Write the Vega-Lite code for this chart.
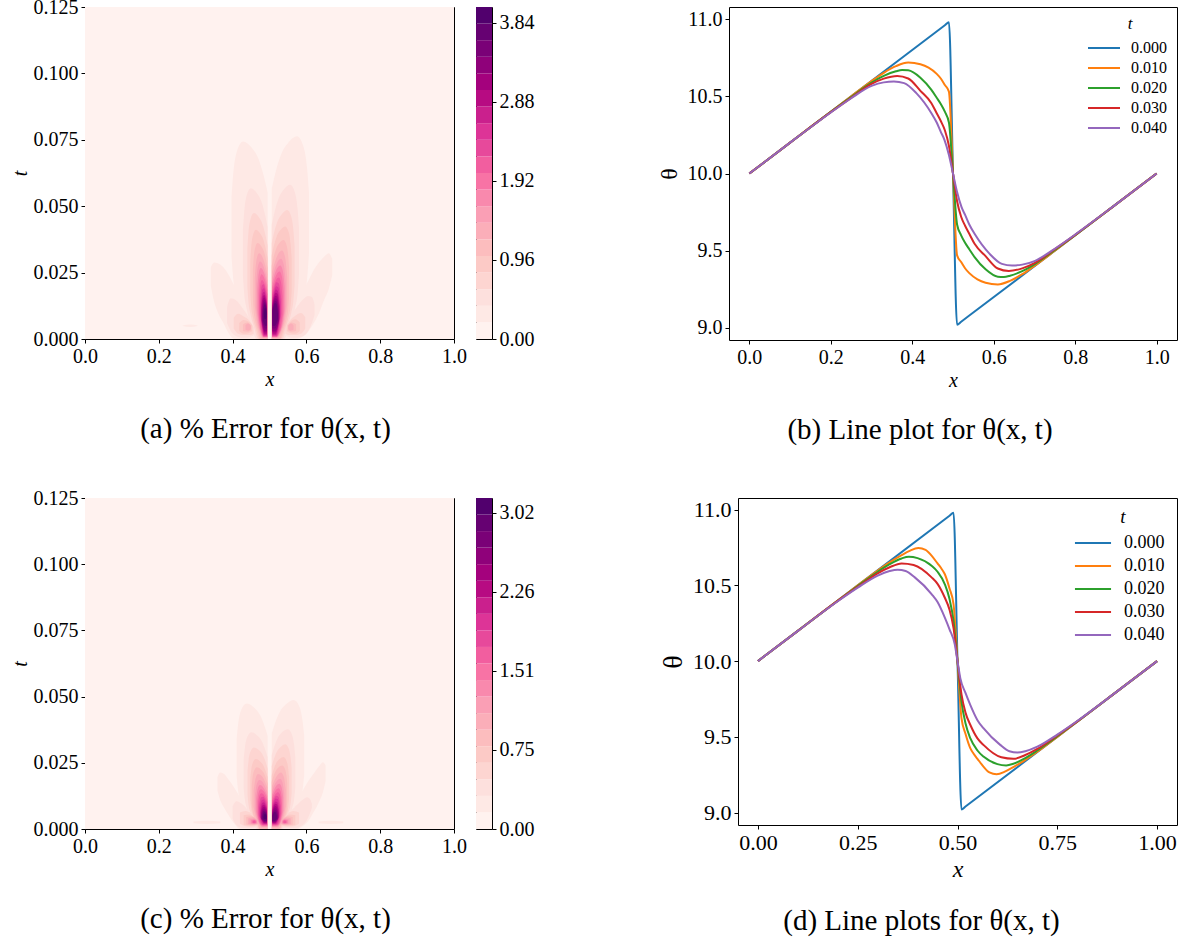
{
"$schema":"https://vega.github.io/schema/vega-lite/v6.json",
"background":"white",
"padding":{"left":9,"top":-4,"right":0,"bottom":0},
"datasets":{
"heatA":[
{"g":"B0","k":0,"x":0,"l":0,"h":0.125},{"g":"B0","k":0,"x":1,"l":0,"h":0.125},
{"g":"L1","k":1,"x":0.397,"l":0.0312,"h":0.0536},{"g":"L1","k":1,"x":0.4019,"l":0.0223,"h":0.0625},{"g":"L1","k":1,"x":0.4117,"l":0.0149,"h":0.0707},{"g":"L1","k":1,"x":0.4284,"l":0.0074,"h":0.0744},{"g":"L1","k":1,"x":0.4509,"l":0,"h":0.0722},{"g":"L1","k":1,"x":0.4705,"l":0,"h":0.0677},{"g":"L1","k":1,"x":0.4852,"l":0,"h":0.061},{"g":"L1","k":1,"x":0.495,"l":0,"h":0.0551},
{"g":"R1","k":1,"x":0.607,"l":0.032,"h":0.0549},{"g":"R1","k":1,"x":0.602,"l":0.0229,"h":0.0641},{"g":"R1","k":1,"x":0.5919,"l":0.0153,"h":0.0725},{"g":"R1","k":1,"x":0.5747,"l":0.0076,"h":0.0763},{"g":"R1","k":1,"x":0.5514,"l":0,"h":0.074},{"g":"R1","k":1,"x":0.5312,"l":0,"h":0.0694},{"g":"R1","k":1,"x":0.5161,"l":0,"h":0.0626},{"g":"R1","k":1,"x":0.506,"l":0,"h":0.0565},
{"g":"S1","k":1,"x":0.341,"l":0.02,"h":0.027},{"g":"S1","k":1,"x":0.35,"l":0.014,"h":0.0288},{"g":"S1","k":1,"x":0.36,"l":0.01,"h":0.0285},{"g":"S1","k":1,"x":0.375,"l":0.006,"h":0.027},{"g":"S1","k":1,"x":0.39,"l":0.002,"h":0.024},{"g":"S1","k":1,"x":0.405,"l":0,"h":0.02},{"g":"S1","k":1,"x":0.42,"l":0,"h":0.016},{"g":"S1","k":1,"x":0.435,"l":0,"h":0.012},{"g":"S1","k":1,"x":0.45,"l":0,"h":0.008},{"g":"S1","k":1,"x":0.46,"l":0,"h":0.004},{"g":"S1","k":1,"x":0.466,"l":0,"h":0.0015},
{"g":"T1","k":1,"x":0.534,"l":0,"h":0.0015},{"g":"T1","k":1,"x":0.54,"l":0,"h":0.004},{"g":"T1","k":1,"x":0.55,"l":0,"h":0.008},{"g":"T1","k":1,"x":0.565,"l":0,"h":0.0125},{"g":"T1","k":1,"x":0.585,"l":0.0005,"h":0.017},{"g":"T1","k":1,"x":0.6,"l":0.002,"h":0.0205},{"g":"T1","k":1,"x":0.62,"l":0.006,"h":0.026},{"g":"T1","k":1,"x":0.635,"l":0.01,"h":0.029},{"g":"T1","k":1,"x":0.648,"l":0.0147,"h":0.031},{"g":"T1","k":1,"x":0.661,"l":0.019,"h":0.0323},{"g":"T1","k":1,"x":0.67,"l":0.024,"h":0.03},
{"g":"V1","k":1,"x":0.265,"l":0.0049,"h":0.0051},{"g":"V1","k":1,"x":0.285,"l":0.0045,"h":0.0055},{"g":"V1","k":1,"x":0.305,"l":0.0049,"h":0.0051},
{"g":"L2","k":2,"x":0.428,"l":0.0239,"h":0.0409},{"g":"L2","k":2,"x":0.4314,"l":0.017,"h":0.0477},{"g":"L2","k":2,"x":0.438,"l":0.0114,"h":0.054},{"g":"L2","k":2,"x":0.4494,"l":0.0057,"h":0.0568},{"g":"L2","k":2,"x":0.4649,"l":0,"h":0.0551},{"g":"L2","k":2,"x":0.4783,"l":0,"h":0.0517},{"g":"L2","k":2,"x":0.4883,"l":0,"h":0.0466},{"g":"L2","k":2,"x":0.495,"l":0,"h":0.042},
{"g":"R2","k":2,"x":0.58,"l":0.0244,"h":0.0418},{"g":"R2","k":2,"x":0.5763,"l":0.0174,"h":0.0488},{"g":"R2","k":2,"x":0.5689,"l":0.0116,"h":0.0552},{"g":"R2","k":2,"x":0.5563,"l":0.0058,"h":0.0581},{"g":"R2","k":2,"x":0.5393,"l":0,"h":0.0564},{"g":"R2","k":2,"x":0.5245,"l":0,"h":0.0529},{"g":"R2","k":2,"x":0.5134,"l":0,"h":0.0476},{"g":"R2","k":2,"x":0.506,"l":0,"h":0.043},
{"g":"S2","k":2,"x":0.385,"l":0.006,"h":0.012},{"g":"S2","k":2,"x":0.395,"l":0.003,"h":0.0153},{"g":"S2","k":2,"x":0.41,"l":0.001,"h":0.0145},{"g":"S2","k":2,"x":0.425,"l":0.0005,"h":0.012},{"g":"S2","k":2,"x":0.44,"l":0.0005,"h":0.009},{"g":"S2","k":2,"x":0.452,"l":0.001,"h":0.006},{"g":"S2","k":2,"x":0.462,"l":0.002,"h":0.003},
{"g":"T2","k":2,"x":0.538,"l":0.002,"h":0.003},{"g":"T2","k":2,"x":0.548,"l":0.001,"h":0.006},{"g":"T2","k":2,"x":0.56,"l":0.0005,"h":0.009},{"g":"T2","k":2,"x":0.575,"l":0.0005,"h":0.0122},{"g":"T2","k":2,"x":0.59,"l":0.001,"h":0.0148},{"g":"T2","k":2,"x":0.605,"l":0.003,"h":0.0162},{"g":"T2","k":2,"x":0.615,"l":0.006,"h":0.0158},{"g":"T2","k":2,"x":0.622,"l":0.009,"h":0.013},
{"g":"L3","k":3,"x":0.44,"l":0.0199,"h":0.0341},{"g":"L3","k":3,"x":0.4428,"l":0.0142,"h":0.0398},{"g":"L3","k":3,"x":0.4483,"l":0.0095,"h":0.045},{"g":"L3","k":3,"x":0.4576,"l":0.0047,"h":0.0474},{"g":"L3","k":3,"x":0.4703,"l":0,"h":0.046},{"g":"L3","k":3,"x":0.4813,"l":0,"h":0.0431},{"g":"L3","k":3,"x":0.4895,"l":0,"h":0.0389},{"g":"L3","k":3,"x":0.495,"l":0,"h":0.0351},
{"g":"R3","k":3,"x":0.568,"l":0.0204,"h":0.035},{"g":"R3","k":3,"x":0.5649,"l":0.0146,"h":0.0408},{"g":"R3","k":3,"x":0.5587,"l":0.0097,"h":0.0462},{"g":"R3","k":3,"x":0.5482,"l":0.0049,"h":0.0486},{"g":"R3","k":3,"x":0.5339,"l":0,"h":0.0471},{"g":"R3","k":3,"x":0.5215,"l":0,"h":0.0442},{"g":"R3","k":3,"x":0.5122,"l":0,"h":0.0399},{"g":"R3","k":3,"x":0.506,"l":0,"h":0.036},
{"g":"S3","k":3,"x":0.403,"l":0.004,"h":0.008},{"g":"S3","k":3,"x":0.415,"l":0.002,"h":0.0095},{"g":"S3","k":3,"x":0.43,"l":0.0015,"h":0.0085},{"g":"S3","k":3,"x":0.445,"l":0.0015,"h":0.007},{"g":"S3","k":3,"x":0.457,"l":0.002,"h":0.0045},
{"g":"T3","k":3,"x":0.543,"l":0.002,"h":0.0045},{"g":"T3","k":3,"x":0.555,"l":0.0015,"h":0.007},{"g":"T3","k":3,"x":0.57,"l":0.0015,"h":0.0088},{"g":"T3","k":3,"x":0.585,"l":0.002,"h":0.0098},{"g":"T3","k":3,"x":0.597,"l":0.004,"h":0.0082},
{"g":"L4","k":4,"x":0.448,"l":0.0173,"h":0.0296},{"g":"L4","k":4,"x":0.4504,"l":0.0123,"h":0.0345},{"g":"L4","k":4,"x":0.455,"l":0.0082,"h":0.039},{"g":"L4","k":4,"x":0.463,"l":0.0041,"h":0.0411},{"g":"L4","k":4,"x":0.4739,"l":0,"h":0.0399},{"g":"L4","k":4,"x":0.4833,"l":0,"h":0.0374},{"g":"L4","k":4,"x":0.4903,"l":0,"h":0.0337},{"g":"L4","k":4,"x":0.495,"l":0,"h":0.0304},
{"g":"R4","k":4,"x":0.56,"l":0.0178,"h":0.0305},{"g":"R4","k":4,"x":0.5573,"l":0.0127,"h":0.0356},{"g":"R4","k":4,"x":0.5519,"l":0.0085,"h":0.0403},{"g":"R4","k":4,"x":0.5427,"l":0.0042,"h":0.0424},{"g":"R4","k":4,"x":0.5303,"l":0,"h":0.0411},{"g":"R4","k":4,"x":0.5195,"l":0,"h":0.0386},{"g":"R4","k":4,"x":0.5114,"l":0,"h":0.0348},{"g":"R4","k":4,"x":0.506,"l":0,"h":0.0314},
{"g":"S4","k":4,"x":0.418,"l":0.003,"h":0.006},{"g":"S4","k":4,"x":0.43,"l":0.002,"h":0.0072},{"g":"S4","k":4,"x":0.443,"l":0.0022,"h":0.0066},{"g":"S4","k":4,"x":0.453,"l":0.003,"h":0.0052},
{"g":"T4","k":4,"x":0.547,"l":0.003,"h":0.0052},{"g":"T4","k":4,"x":0.557,"l":0.0022,"h":0.0066},{"g":"T4","k":4,"x":0.57,"l":0.002,"h":0.0074},{"g":"T4","k":4,"x":0.582,"l":0.003,"h":0.0062},
{"g":"L5","k":5,"x":0.455,"l":0.0152,"h":0.026},{"g":"L5","k":5,"x":0.457,"l":0.0108,"h":0.0303},{"g":"L5","k":5,"x":0.461,"l":0.0072,"h":0.0343},{"g":"L5","k":5,"x":0.4678,"l":0.0036,"h":0.0361},{"g":"L5","k":5,"x":0.477,"l":0,"h":0.035},{"g":"L5","k":5,"x":0.485,"l":0,"h":0.0329},{"g":"L5","k":5,"x":0.491,"l":0,"h":0.0296},{"g":"L5","k":5,"x":0.495,"l":0,"h":0.0267},
{"g":"R5","k":5,"x":0.553,"l":0.0157,"h":0.0269},{"g":"R5","k":5,"x":0.5507,"l":0.0112,"h":0.0313},{"g":"R5","k":5,"x":0.546,"l":0.0075,"h":0.0354},{"g":"R5","k":5,"x":0.538,"l":0.0037,"h":0.0373},{"g":"R5","k":5,"x":0.5272,"l":0,"h":0.0362},{"g":"R5","k":5,"x":0.5178,"l":0,"h":0.0339},{"g":"R5","k":5,"x":0.5107,"l":0,"h":0.0306},{"g":"R5","k":5,"x":0.506,"l":0,"h":0.0276},
{"g":"S5","k":5,"x":0.428,"l":0.003,"h":0.0055},{"g":"S5","k":5,"x":0.44,"l":0.0027,"h":0.0062},{"g":"S5","k":5,"x":0.45,"l":0.0033,"h":0.005},
{"g":"T5","k":5,"x":0.55,"l":0.0033,"h":0.005},{"g":"T5","k":5,"x":0.56,"l":0.0027,"h":0.0062},{"g":"T5","k":5,"x":0.572,"l":0.003,"h":0.0056},
{"g":"L6","k":6,"x":0.46,"l":0.0129,"h":0.0226},{"g":"L6","k":6,"x":0.4651,"l":0.0071,"h":0.03},{"g":"L6","k":6,"x":0.4719,"l":0.0032,"h":0.0323},{"g":"L6","k":6,"x":0.4804,"l":0.0005,"h":0.031},{"g":"L6","k":6,"x":0.4889,"l":0.0005,"h":0.0275},{"g":"L6","k":6,"x":0.494,"l":0.0005,"h":0.0245},
{"g":"R6","k":6,"x":0.548,"l":0.0133,"h":0.0233},{"g":"R6","k":6,"x":0.5419,"l":0.0073,"h":0.031},{"g":"R6","k":6,"x":0.5337,"l":0.0033,"h":0.0333},{"g":"R6","k":6,"x":0.5234,"l":0.0005,"h":0.032},{"g":"R6","k":6,"x":0.5132,"l":0.0005,"h":0.0283},{"g":"R6","k":6,"x":0.507,"l":0.0005,"h":0.0253},
{"g":"S6","k":6,"x":0.435,"l":0.0035,"h":0.0052},{"g":"S6","k":6,"x":0.442,"l":0.0032,"h":0.0058},{"g":"S6","k":6,"x":0.449,"l":0.0037,"h":0.005},
{"g":"T6","k":6,"x":0.551,"l":0.0037,"h":0.005},{"g":"T6","k":6,"x":0.558,"l":0.0032,"h":0.0058},{"g":"T6","k":6,"x":0.565,"l":0.0035,"h":0.0052},
{"g":"L7","k":7,"x":0.464,"l":0.0117,"h":0.0204},{"g":"L7","k":7,"x":0.4685,"l":0.0064,"h":0.0272},{"g":"L7","k":7,"x":0.4745,"l":0.0029,"h":0.0292},{"g":"L7","k":7,"x":0.482,"l":0.0006,"h":0.028},{"g":"L7","k":7,"x":0.4895,"l":0.0006,"h":0.0248},{"g":"L7","k":7,"x":0.494,"l":0.0006,"h":0.0222},
{"g":"R7","k":7,"x":0.544,"l":0.0121,"h":0.0211},{"g":"R7","k":7,"x":0.5385,"l":0.0066,"h":0.0281},{"g":"R7","k":7,"x":0.5311,"l":0.003,"h":0.0302},{"g":"R7","k":7,"x":0.5218,"l":0.0006,"h":0.029},{"g":"R7","k":7,"x":0.5126,"l":0.0006,"h":0.0257},{"g":"R7","k":7,"x":0.507,"l":0.0006,"h":0.023},
{"g":"L8","k":8,"x":0.467,"l":0.0107,"h":0.0187},{"g":"L8","k":8,"x":0.471,"l":0.0059,"h":0.0248},{"g":"L8","k":8,"x":0.4765,"l":0.0027,"h":0.0267},{"g":"L8","k":8,"x":0.4832,"l":0.0007,"h":0.0256},{"g":"L8","k":8,"x":0.49,"l":0.0007,"h":0.0227},{"g":"L8","k":8,"x":0.494,"l":0.0007,"h":0.0203},
{"g":"R8","k":8,"x":0.541,"l":0.0111,"h":0.0194},{"g":"R8","k":8,"x":0.5359,"l":0.0061,"h":0.0258},{"g":"R8","k":8,"x":0.5291,"l":0.0028,"h":0.0277},{"g":"R8","k":8,"x":0.5206,"l":0.0007,"h":0.0266},{"g":"R8","k":8,"x":0.5121,"l":0.0007,"h":0.0235},{"g":"R8","k":8,"x":0.507,"l":0.0007,"h":0.0211},
{"g":"L9","k":9,"x":0.47,"l":0.0098,"h":0.0171},{"g":"L9","k":9,"x":0.4736,"l":0.0054,"h":0.0227},{"g":"L9","k":9,"x":0.4784,"l":0.0024,"h":0.0244},{"g":"L9","k":9,"x":0.4844,"l":0.0008,"h":0.0234},{"g":"L9","k":9,"x":0.4904,"l":0.0008,"h":0.0207},{"g":"L9","k":9,"x":0.494,"l":0.0008,"h":0.0185},
{"g":"R9","k":9,"x":0.538,"l":0.0102,"h":0.0178},{"g":"R9","k":9,"x":0.5334,"l":0.0056,"h":0.0236},{"g":"R9","k":9,"x":0.5272,"l":0.0025,"h":0.0254},{"g":"R9","k":9,"x":0.5194,"l":0.0008,"h":0.0244},{"g":"R9","k":9,"x":0.5117,"l":0.0008,"h":0.0216},{"g":"R9","k":9,"x":0.507,"l":0.0008,"h":0.0193},
{"g":"L10","k":10,"x":0.472,"l":0.0089,"h":0.0155},{"g":"L10","k":10,"x":0.4753,"l":0.0049,"h":0.0206},{"g":"L10","k":10,"x":0.4797,"l":0.0022,"h":0.0222},{"g":"L10","k":10,"x":0.4852,"l":0.0009,"h":0.0213},{"g":"L10","k":10,"x":0.4907,"l":0.0009,"h":0.0189},{"g":"L10","k":10,"x":0.494,"l":0.0009,"h":0.0169},
{"g":"R10","k":10,"x":0.535,"l":0.0093,"h":0.0162},{"g":"R10","k":10,"x":0.5308,"l":0.0051,"h":0.0216},{"g":"R10","k":10,"x":0.5252,"l":0.0023,"h":0.0232},{"g":"R10","k":10,"x":0.5182,"l":0.0009,"h":0.0223},{"g":"R10","k":10,"x":0.5112,"l":0.0009,"h":0.0197},{"g":"R10","k":10,"x":0.507,"l":0.0009,"h":0.0176},
{"g":"L11","k":11,"x":0.474,"l":0.0093,"h":0.0144},{"g":"L11","k":11,"x":0.4797,"l":0.003,"h":0.0202},{"g":"L11","k":11,"x":0.4845,"l":0.001,"h":0.0206},{"g":"L11","k":11,"x":0.4892,"l":0.001,"h":0.0185},{"g":"L11","k":11,"x":0.493,"l":0.001,"h":0.0161},
{"g":"R11","k":11,"x":0.532,"l":0.0096,"h":0.015},{"g":"R11","k":11,"x":0.5248,"l":0.003,"h":0.021},{"g":"R11","k":11,"x":0.5188,"l":0.001,"h":0.0214},{"g":"R11","k":11,"x":0.5128,"l":0.001,"h":0.0193},{"g":"R11","k":11,"x":0.508,"l":0.001,"h":0.0167},
{"g":"L12","k":12,"x":0.476,"l":0.0086,"h":0.0134},{"g":"L12","k":12,"x":0.4811,"l":0.003,"h":0.0187},{"g":"L12","k":12,"x":0.4854,"l":0.0012,"h":0.0191},{"g":"L12","k":12,"x":0.4896,"l":0.0012,"h":0.0172},{"g":"L12","k":12,"x":0.493,"l":0.0012,"h":0.0149},
{"g":"R12","k":12,"x":0.53,"l":0.009,"h":0.0139},{"g":"R12","k":12,"x":0.5234,"l":0.003,"h":0.0195},{"g":"R12","k":12,"x":0.5179,"l":0.0012,"h":0.0199},{"g":"R12","k":12,"x":0.5124,"l":0.0012,"h":0.0179},{"g":"R12","k":12,"x":0.508,"l":0.0012,"h":0.0155},
{"g":"L13","k":13,"x":0.477,"l":0.008,"h":0.0125},{"g":"L13","k":13,"x":0.4818,"l":0.0032,"h":0.0174},{"g":"L13","k":13,"x":0.4858,"l":0.0015,"h":0.0178},{"g":"L13","k":13,"x":0.4898,"l":0.0015,"h":0.016},{"g":"L13","k":13,"x":0.493,"l":0.0015,"h":0.0139},
{"g":"R13","k":13,"x":0.528,"l":0.0084,"h":0.013},{"g":"R13","k":13,"x":0.522,"l":0.0032,"h":0.0182},{"g":"R13","k":13,"x":0.517,"l":0.0015,"h":0.0186},{"g":"R13","k":13,"x":0.512,"l":0.0015,"h":0.0167},{"g":"R13","k":13,"x":0.508,"l":0.0015,"h":0.0145},
{"g":"L14","k":14,"x":0.478,"l":0.0075,"h":0.0116},{"g":"L14","k":14,"x":0.4825,"l":0.0035,"h":0.0163},{"g":"L14","k":14,"x":0.4863,"l":0.002,"h":0.0166},{"g":"L14","k":14,"x":0.49,"l":0.002,"h":0.0149},{"g":"L14","k":14,"x":0.493,"l":0.002,"h":0.0129},
{"g":"R14","k":14,"x":0.527,"l":0.0078,"h":0.0122},{"g":"R14","k":14,"x":0.5213,"l":0.0035,"h":0.0171},{"g":"R14","k":14,"x":0.5165,"l":0.002,"h":0.0174},{"g":"R14","k":14,"x":0.5118,"l":0.002,"h":0.0157},{"g":"R14","k":14,"x":0.508,"l":0.002,"h":0.0136},
{"g":"L15","k":15,"x":0.479,"l":0.007,"h":0.0109},{"g":"L15","k":15,"x":0.4832,"l":0.0038,"h":0.0153},{"g":"L15","k":15,"x":0.4867,"l":0.0025,"h":0.0156},{"g":"L15","k":15,"x":0.4902,"l":0.0025,"h":0.014},{"g":"L15","k":15,"x":0.493,"l":0.0025,"h":0.0122},
{"g":"R15","k":15,"x":0.526,"l":0.0073,"h":0.0114},{"g":"R15","k":15,"x":0.5206,"l":0.0038,"h":0.016},{"g":"R15","k":15,"x":0.5161,"l":0.0025,"h":0.0163},{"g":"R15","k":15,"x":0.5116,"l":0.0025,"h":0.0147},{"g":"R15","k":15,"x":0.508,"l":0.0025,"h":0.0127},
{"g":"L16","k":16,"x":0.48,"l":0.0066,"h":0.0103},{"g":"L16","k":16,"x":0.4839,"l":0.004,"h":0.0144},{"g":"L16","k":16,"x":0.4872,"l":0.003,"h":0.0147},{"g":"L16","k":16,"x":0.4904,"l":0.003,"h":0.0132},{"g":"L16","k":16,"x":0.493,"l":0.003,"h":0.0115},
{"g":"R16","k":16,"x":0.525,"l":0.0069,"h":0.0107},{"g":"R16","k":16,"x":0.5199,"l":0.004,"h":0.015},{"g":"R16","k":16,"x":0.5157,"l":0.003,"h":0.0153},{"g":"R16","k":16,"x":0.5114,"l":0.003,"h":0.0138},{"g":"R16","k":16,"x":0.508,"l":0.003,"h":0.0119},
{"g":"L17","k":17,"x":0.481,"l":0.0065,"h":0.0097},{"g":"L17","k":17,"x":0.4846,"l":0.0048,"h":0.0135},{"g":"L17","k":17,"x":0.4876,"l":0.004,"h":0.0138},{"g":"L17","k":17,"x":0.4906,"l":0.004,"h":0.0124},{"g":"L17","k":17,"x":0.493,"l":0.004,"h":0.0108},
{"g":"R17","k":17,"x":0.524,"l":0.0068,"h":0.0101},{"g":"R17","k":17,"x":0.5192,"l":0.0048,"h":0.0141},{"g":"R17","k":17,"x":0.5152,"l":0.004,"h":0.0144},{"g":"R17","k":17,"x":0.5112,"l":0.004,"h":0.013},{"g":"R17","k":17,"x":0.508,"l":0.004,"h":0.0112},
{"g":"L18","k":18,"x":0.482,"l":0.0072,"h":0.0092},{"g":"L18","k":18,"x":0.4853,"l":0.0058,"h":0.0128},{"g":"L18","k":18,"x":0.4881,"l":0.005,"h":0.0131},{"g":"L18","k":18,"x":0.4908,"l":0.005,"h":0.0118},{"g":"L18","k":18,"x":0.493,"l":0.005,"h":0.0102},
{"g":"R18","k":18,"x":0.523,"l":0.0075,"h":0.0095},{"g":"R18","k":18,"x":0.5185,"l":0.0058,"h":0.0133},{"g":"R18","k":18,"x":0.5148,"l":0.005,"h":0.0136},{"g":"R18","k":18,"x":0.511,"l":0.005,"h":0.0122},{"g":"R18","k":18,"x":0.508,"l":0.005,"h":0.0106},
{"g":"L19","k":19,"x":0.485,"l":0.0085,"h":0.0095},{"g":"L19","k":19,"x":0.4871,"l":0.0075,"h":0.0116},{"g":"L19","k":19,"x":0.4889,"l":0.0075,"h":0.0118},{"g":"L19","k":19,"x":0.4906,"l":0.0077,"h":0.0108},{"g":"L19","k":19,"x":0.492,"l":0.0082,"h":0.0097}
],
"heatC":[
{"g":"B0","k":0,"x":0,"l":0,"h":0.125},{"g":"B0","k":0,"x":1,"l":0,"h":0.125},
{"g":"L1","k":1,"x":0.411,"l":0.0199,"h":0.0341},{"g":"L1","k":1,"x":0.4152,"l":0.0142,"h":0.0398},{"g":"L1","k":1,"x":0.4236,"l":0.0095,"h":0.045},{"g":"L1","k":1,"x":0.4379,"l":0.0047,"h":0.0474},{"g":"L1","k":1,"x":0.4572,"l":0,"h":0.046},{"g":"L1","k":1,"x":0.474,"l":0,"h":0.0431},{"g":"L1","k":1,"x":0.4866,"l":0,"h":0.0389},{"g":"L1","k":1,"x":0.495,"l":0,"h":0.0351},
{"g":"R1","k":1,"x":0.594,"l":0.0205,"h":0.0351},{"g":"R1","k":1,"x":0.5896,"l":0.0146,"h":0.0409},{"g":"R1","k":1,"x":0.5808,"l":0.0097,"h":0.0463},{"g":"R1","k":1,"x":0.5658,"l":0.0049,"h":0.0487},{"g":"R1","k":1,"x":0.5456,"l":0,"h":0.0472},{"g":"R1","k":1,"x":0.528,"l":0,"h":0.0443},{"g":"R1","k":1,"x":0.5148,"l":0,"h":0.0399},{"g":"R1","k":1,"x":0.506,"l":0,"h":0.036},
{"g":"S1","k":1,"x":0.359,"l":0.0145,"h":0.0195},{"g":"S1","k":1,"x":0.366,"l":0.011,"h":0.0213},{"g":"S1","k":1,"x":0.375,"l":0.0085,"h":0.021},{"g":"S1","k":1,"x":0.39,"l":0.005,"h":0.0185},{"g":"S1","k":1,"x":0.405,"l":0.002,"h":0.0155},{"g":"S1","k":1,"x":0.42,"l":0,"h":0.012},{"g":"S1","k":1,"x":0.435,"l":0,"h":0.0085},{"g":"S1","k":1,"x":0.45,"l":0,"h":0.0055},{"g":"S1","k":1,"x":0.465,"l":0,"h":0.003},{"g":"S1","k":1,"x":0.475,"l":0,"h":0.0015},
{"g":"T1","k":1,"x":0.525,"l":0,"h":0.0015},{"g":"T1","k":1,"x":0.535,"l":0,"h":0.003},{"g":"T1","k":1,"x":0.545,"l":0,"h":0.0045},{"g":"T1","k":1,"x":0.56,"l":0,"h":0.0075},{"g":"T1","k":1,"x":0.575,"l":0,"h":0.011},{"g":"T1","k":1,"x":0.59,"l":0.001,"h":0.0145},{"g":"T1","k":1,"x":0.605,"l":0.003,"h":0.018},{"g":"T1","k":1,"x":0.62,"l":0.0065,"h":0.021},{"g":"T1","k":1,"x":0.635,"l":0.0105,"h":0.0238},{"g":"T1","k":1,"x":0.645,"l":0.014,"h":0.0252},{"g":"T1","k":1,"x":0.652,"l":0.018,"h":0.024},
{"g":"V1","k":1,"x":0.294,"l":0.0022,"h":0.0028},{"g":"V1","k":1,"x":0.33,"l":0.0019,"h":0.0031},{"g":"V1","k":1,"x":0.367,"l":0.0022,"h":0.0028},
{"g":"W1","k":1,"x":0.633,"l":0.0022,"h":0.0028},{"g":"W1","k":1,"x":0.667,"l":0.0019,"h":0.0031},{"g":"W1","k":1,"x":0.7,"l":0.0022,"h":0.0028},
{"g":"L2","k":2,"x":0.43,"l":0.0153,"h":0.0263},{"g":"L2","k":2,"x":0.4333,"l":0.011,"h":0.0307},{"g":"L2","k":2,"x":0.4398,"l":0.0073,"h":0.0347},{"g":"L2","k":2,"x":0.4508,"l":0.0037,"h":0.0365},{"g":"L2","k":2,"x":0.4658,"l":0,"h":0.0354},{"g":"L2","k":2,"x":0.4788,"l":0,"h":0.0332},{"g":"L2","k":2,"x":0.4885,"l":0,"h":0.0299},{"g":"L2","k":2,"x":0.495,"l":0,"h":0.027},
{"g":"R2","k":2,"x":0.57,"l":0.0158,"h":0.0271},{"g":"R2","k":2,"x":0.5668,"l":0.0113,"h":0.0317},{"g":"R2","k":2,"x":0.5604,"l":0.0075,"h":0.0358},{"g":"R2","k":2,"x":0.5495,"l":0.0038,"h":0.0377},{"g":"R2","k":2,"x":0.5348,"l":0,"h":0.0366},{"g":"R2","k":2,"x":0.522,"l":0,"h":0.0343},{"g":"R2","k":2,"x":0.5124,"l":0,"h":0.0309},{"g":"R2","k":2,"x":0.506,"l":0,"h":0.0279},
{"g":"S2","k":2,"x":0.4,"l":0.004,"h":0.0085},{"g":"S2","k":2,"x":0.41,"l":0.0015,"h":0.0105},{"g":"S2","k":2,"x":0.425,"l":0.0005,"h":0.0095},{"g":"S2","k":2,"x":0.44,"l":0.0004,"h":0.0075},{"g":"S2","k":2,"x":0.455,"l":0.0004,"h":0.006},{"g":"S2","k":2,"x":0.47,"l":0.0006,"h":0.0045},{"g":"S2","k":2,"x":0.478,"l":0.0015,"h":0.0025},
{"g":"T2","k":2,"x":0.522,"l":0.0015,"h":0.0025},{"g":"T2","k":2,"x":0.53,"l":0.0006,"h":0.0045},{"g":"T2","k":2,"x":0.545,"l":0.0004,"h":0.006},{"g":"T2","k":2,"x":0.56,"l":0.0004,"h":0.0072},{"g":"T2","k":2,"x":0.575,"l":0.0005,"h":0.0092},{"g":"T2","k":2,"x":0.59,"l":0.0015,"h":0.011},{"g":"T2","k":2,"x":0.602,"l":0.0035,"h":0.012},{"g":"T2","k":2,"x":0.61,"l":0.006,"h":0.0112},{"g":"T2","k":2,"x":0.615,"l":0.008,"h":0.0095},
{"g":"L3","k":3,"x":0.4405,"l":0.0129,"h":0.0222},{"g":"L3","k":3,"x":0.4432,"l":0.0092,"h":0.0259},{"g":"L3","k":3,"x":0.4487,"l":0.0062,"h":0.0293},{"g":"L3","k":3,"x":0.4579,"l":0.0031,"h":0.0308},{"g":"L3","k":3,"x":0.4705,"l":0,"h":0.0299},{"g":"L3","k":3,"x":0.4814,"l":0,"h":0.028},{"g":"L3","k":3,"x":0.4896,"l":0,"h":0.0253},{"g":"L3","k":3,"x":0.495,"l":0,"h":0.0228},
{"g":"R3","k":3,"x":0.56,"l":0.0134,"h":0.023},{"g":"R3","k":3,"x":0.5573,"l":0.0096,"h":0.0269},{"g":"R3","k":3,"x":0.5519,"l":0.0064,"h":0.0304},{"g":"R3","k":3,"x":0.5427,"l":0.0032,"h":0.032},{"g":"R3","k":3,"x":0.5303,"l":0,"h":0.031},{"g":"R3","k":3,"x":0.5195,"l":0,"h":0.0291},{"g":"R3","k":3,"x":0.5114,"l":0,"h":0.0262},{"g":"R3","k":3,"x":0.506,"l":0,"h":0.0237},
{"g":"S3","k":3,"x":0.42,"l":0.002,"h":0.0062},{"g":"S3","k":3,"x":0.435,"l":0.001,"h":0.0068},{"g":"S3","k":3,"x":0.45,"l":0.0008,"h":0.006},{"g":"S3","k":3,"x":0.465,"l":0.001,"h":0.0045},{"g":"S3","k":3,"x":0.475,"l":0.0018,"h":0.003},
{"g":"T3","k":3,"x":0.525,"l":0.0018,"h":0.003},{"g":"T3","k":3,"x":0.535,"l":0.001,"h":0.0045},{"g":"T3","k":3,"x":0.55,"l":0.0008,"h":0.006},{"g":"T3","k":3,"x":0.565,"l":0.001,"h":0.0068},{"g":"T3","k":3,"x":0.58,"l":0.002,"h":0.0062},
{"g":"L4","k":4,"x":0.448,"l":0.0111,"h":0.019},{"g":"L4","k":4,"x":0.4504,"l":0.0079,"h":0.0222},{"g":"L4","k":4,"x":0.455,"l":0.0053,"h":0.0251},{"g":"L4","k":4,"x":0.463,"l":0.0026,"h":0.0264},{"g":"L4","k":4,"x":0.4739,"l":0,"h":0.0256},{"g":"L4","k":4,"x":0.4833,"l":0,"h":0.024},{"g":"L4","k":4,"x":0.4903,"l":0,"h":0.0216},{"g":"L4","k":4,"x":0.495,"l":0,"h":0.0195},
{"g":"R4","k":4,"x":0.553,"l":0.0114,"h":0.0196},{"g":"R4","k":4,"x":0.5507,"l":0.0082,"h":0.0228},{"g":"R4","k":4,"x":0.546,"l":0.0054,"h":0.0258},{"g":"R4","k":4,"x":0.538,"l":0.0027,"h":0.0272},{"g":"R4","k":4,"x":0.5272,"l":0,"h":0.0264},{"g":"R4","k":4,"x":0.5178,"l":0,"h":0.0248},{"g":"R4","k":4,"x":0.5107,"l":0,"h":0.0223},{"g":"R4","k":4,"x":0.506,"l":0,"h":0.0201},
{"g":"S4","k":4,"x":0.43,"l":0.0016,"h":0.0052},{"g":"S4","k":4,"x":0.445,"l":0.0012,"h":0.0055},{"g":"S4","k":4,"x":0.46,"l":0.0012,"h":0.0045},{"g":"S4","k":4,"x":0.472,"l":0.0018,"h":0.0032},
{"g":"T4","k":4,"x":0.528,"l":0.0018,"h":0.0032},{"g":"T4","k":4,"x":0.54,"l":0.0012,"h":0.0045},{"g":"T4","k":4,"x":0.555,"l":0.0012,"h":0.0055},{"g":"T4","k":4,"x":0.57,"l":0.0016,"h":0.0052},
{"g":"L5","k":5,"x":0.452,"l":0.0098,"h":0.0168},{"g":"L5","k":5,"x":0.4542,"l":0.007,"h":0.0196},{"g":"L5","k":5,"x":0.4585,"l":0.0047,"h":0.0221},{"g":"L5","k":5,"x":0.4658,"l":0.0023,"h":0.0233},{"g":"L5","k":5,"x":0.4757,"l":0,"h":0.0226},{"g":"L5","k":5,"x":0.4843,"l":0,"h":0.0212},{"g":"L5","k":5,"x":0.4907,"l":0,"h":0.0191},{"g":"L5","k":5,"x":0.495,"l":0,"h":0.0172},
{"g":"R5","k":5,"x":0.548,"l":0.0101,"h":0.0173},{"g":"R5","k":5,"x":0.5459,"l":0.0072,"h":0.0202},{"g":"R5","k":5,"x":0.5417,"l":0.0048,"h":0.0228},{"g":"R5","k":5,"x":0.5346,"l":0.0024,"h":0.024},{"g":"R5","k":5,"x":0.5249,"l":0,"h":0.0233},{"g":"R5","k":5,"x":0.5165,"l":0,"h":0.0218},{"g":"R5","k":5,"x":0.5102,"l":0,"h":0.0197},{"g":"R5","k":5,"x":0.506,"l":0,"h":0.0178},
{"g":"S5","k":5,"x":0.437,"l":0.0017,"h":0.0045},{"g":"S5","k":5,"x":0.45,"l":0.0014,"h":0.0048},{"g":"S5","k":5,"x":0.463,"l":0.0015,"h":0.004},{"g":"S5","k":5,"x":0.472,"l":0.002,"h":0.003},
{"g":"T5","k":5,"x":0.528,"l":0.002,"h":0.003},{"g":"T5","k":5,"x":0.537,"l":0.0015,"h":0.004},{"g":"T5","k":5,"x":0.55,"l":0.0014,"h":0.0048},{"g":"T5","k":5,"x":0.563,"l":0.0017,"h":0.0045},
{"g":"L6","k":6,"x":0.457,"l":0.0083,"h":0.0146},{"g":"L6","k":6,"x":0.4626,"l":0.0046,"h":0.0193},{"g":"L6","k":6,"x":0.469,"l":0.0021,"h":0.0208},{"g":"L6","k":6,"x":0.4792,"l":0.0006,"h":0.02},{"g":"L6","k":6,"x":0.4885,"l":0.0006,"h":0.0177},{"g":"L6","k":6,"x":0.494,"l":0.0006,"h":0.0158},
{"g":"R6","k":6,"x":0.544,"l":0.0085,"h":0.0149},{"g":"R6","k":6,"x":0.5385,"l":0.0047,"h":0.0198},{"g":"R6","k":6,"x":0.5311,"l":0.0021,"h":0.0213},{"g":"R6","k":6,"x":0.5218,"l":0.0006,"h":0.0204},{"g":"R6","k":6,"x":0.5126,"l":0.0006,"h":0.0181},{"g":"R6","k":6,"x":0.507,"l":0.0006,"h":0.0162},
{"g":"S6","k":6,"x":0.442,"l":0.0019,"h":0.004},{"g":"S6","k":6,"x":0.455,"l":0.0016,"h":0.0043},{"g":"S6","k":6,"x":0.466,"l":0.0018,"h":0.0036},{"g":"S6","k":6,"x":0.471,"l":0.0022,"h":0.003},
{"g":"T6","k":6,"x":0.529,"l":0.0022,"h":0.003},{"g":"T6","k":6,"x":0.534,"l":0.0018,"h":0.0036},{"g":"T6","k":6,"x":0.545,"l":0.0016,"h":0.0043},{"g":"T6","k":6,"x":0.558,"l":0.0019,"h":0.004},
{"g":"L7","k":7,"x":0.461,"l":0.0074,"h":0.013},{"g":"L7","k":7,"x":0.466,"l":0.0041,"h":0.0172},{"g":"L7","k":7,"x":0.4726,"l":0.0019,"h":0.0185},{"g":"L7","k":7,"x":0.4808,"l":0.0008,"h":0.0178},{"g":"L7","k":7,"x":0.4891,"l":0.0008,"h":0.0157},{"g":"L7","k":7,"x":0.494,"l":0.0008,"h":0.0141},
{"g":"R7","k":7,"x":0.54,"l":0.0076,"h":0.0133},{"g":"R7","k":7,"x":0.535,"l":0.0042,"h":0.0177},{"g":"R7","k":7,"x":0.5285,"l":0.0019,"h":0.019},{"g":"R7","k":7,"x":0.5202,"l":0.0008,"h":0.0182},{"g":"R7","k":7,"x":0.512,"l":0.0008,"h":0.0162},{"g":"R7","k":7,"x":0.507,"l":0.0008,"h":0.0144},
{"g":"S7","k":7,"x":0.446,"l":0.0021,"h":0.0036},{"g":"S7","k":7,"x":0.457,"l":0.0018,"h":0.0039},{"g":"S7","k":7,"x":0.467,"l":0.002,"h":0.0033},
{"g":"T7","k":7,"x":0.533,"l":0.002,"h":0.0033},{"g":"T7","k":7,"x":0.543,"l":0.0018,"h":0.0039},{"g":"T7","k":7,"x":0.554,"l":0.0021,"h":0.0036},
{"g":"L8","k":8,"x":0.464,"l":0.0066,"h":0.0116},{"g":"L8","k":8,"x":0.4685,"l":0.0037,"h":0.0154},{"g":"L8","k":8,"x":0.4745,"l":0.0017,"h":0.0166},{"g":"L8","k":8,"x":0.482,"l":0.001,"h":0.0159},{"g":"L8","k":8,"x":0.4895,"l":0.001,"h":0.0141},{"g":"L8","k":8,"x":0.494,"l":0.001,"h":0.0126},
{"g":"R8","k":8,"x":0.537,"l":0.0068,"h":0.012},{"g":"R8","k":8,"x":0.5325,"l":0.0038,"h":0.0159},{"g":"R8","k":8,"x":0.5265,"l":0.0017,"h":0.0171},{"g":"R8","k":8,"x":0.519,"l":0.001,"h":0.0164},{"g":"R8","k":8,"x":0.5115,"l":0.001,"h":0.0145},{"g":"R8","k":8,"x":0.507,"l":0.001,"h":0.013},
{"g":"S8","k":8,"x":0.45,"l":0.0022,"h":0.0034},{"g":"S8","k":8,"x":0.458,"l":0.002,"h":0.0036},{"g":"S8","k":8,"x":0.465,"l":0.0022,"h":0.0031},
{"g":"T8","k":8,"x":0.535,"l":0.0022,"h":0.0031},{"g":"T8","k":8,"x":0.542,"l":0.002,"h":0.0036},{"g":"T8","k":8,"x":0.55,"l":0.0022,"h":0.0034},
{"g":"L9","k":9,"x":0.467,"l":0.006,"h":0.0105},{"g":"L9","k":9,"x":0.471,"l":0.0033,"h":0.014},{"g":"L9","k":9,"x":0.4765,"l":0.0016,"h":0.015},{"g":"L9","k":9,"x":0.4832,"l":0.0012,"h":0.0144},{"g":"L9","k":9,"x":0.49,"l":0.0012,"h":0.0128},{"g":"L9","k":9,"x":0.494,"l":0.0012,"h":0.0114},
{"g":"R9","k":9,"x":0.534,"l":0.0062,"h":0.0108},{"g":"R9","k":9,"x":0.53,"l":0.0034,"h":0.0143},{"g":"R9","k":9,"x":0.5246,"l":0.0016,"h":0.0154},{"g":"R9","k":9,"x":0.5178,"l":0.0012,"h":0.0148},{"g":"R9","k":9,"x":0.511,"l":0.0012,"h":0.0131},{"g":"R9","k":9,"x":0.507,"l":0.0012,"h":0.0117},
{"g":"S9","k":9,"x":0.453,"l":0.0023,"h":0.0032},{"g":"S9","k":9,"x":0.459,"l":0.0021,"h":0.0034},{"g":"S9","k":9,"x":0.464,"l":0.0023,"h":0.003},
{"g":"T9","k":9,"x":0.536,"l":0.0023,"h":0.003},{"g":"T9","k":9,"x":0.541,"l":0.0021,"h":0.0034},{"g":"T9","k":9,"x":0.547,"l":0.0023,"h":0.0032},
{"g":"L10","k":10,"x":0.469,"l":0.0054,"h":0.0095},{"g":"L10","k":10,"x":0.4728,"l":0.003,"h":0.0126},{"g":"L10","k":10,"x":0.4778,"l":0.0017,"h":0.0135},{"g":"L10","k":10,"x":0.484,"l":0.0014,"h":0.013},{"g":"L10","k":10,"x":0.4903,"l":0.0014,"h":0.0115},{"g":"L10","k":10,"x":0.494,"l":0.0014,"h":0.0103},
{"g":"R10","k":10,"x":0.532,"l":0.0056,"h":0.0097},{"g":"R10","k":10,"x":0.5283,"l":0.0031,"h":0.0129},{"g":"R10","k":10,"x":0.5233,"l":0.0017,"h":0.0139},{"g":"R10","k":10,"x":0.517,"l":0.0014,"h":0.0133},{"g":"R10","k":10,"x":0.5108,"l":0.0014,"h":0.0118},{"g":"R10","k":10,"x":0.507,"l":0.0014,"h":0.0106},
{"g":"S10","k":10,"x":0.455,"l":0.0024,"h":0.003},{"g":"S10","k":10,"x":0.459,"l":0.0023,"h":0.0032},{"g":"S10","k":10,"x":0.462,"l":0.0024,"h":0.0029},
{"g":"T10","k":10,"x":0.538,"l":0.0024,"h":0.0029},{"g":"T10","k":10,"x":0.541,"l":0.0023,"h":0.0032},{"g":"T10","k":10,"x":0.545,"l":0.0024,"h":0.003},
{"g":"L11","k":11,"x":0.471,"l":0.0055,"h":0.0085},{"g":"L11","k":11,"x":0.4776,"l":0.0022,"h":0.012},{"g":"L11","k":11,"x":0.4831,"l":0.0016,"h":0.0122},{"g":"L11","k":11,"x":0.4886,"l":0.0016,"h":0.011},{"g":"L11","k":11,"x":0.493,"l":0.0016,"h":0.0095},
{"g":"R11","k":11,"x":0.53,"l":0.0057,"h":0.0088},{"g":"R11","k":11,"x":0.5234,"l":0.0022,"h":0.0123},{"g":"R11","k":11,"x":0.5179,"l":0.0016,"h":0.0126},{"g":"R11","k":11,"x":0.5124,"l":0.0016,"h":0.0113},{"g":"R11","k":11,"x":0.508,"l":0.0016,"h":0.0098},
{"g":"L12","k":12,"x":0.473,"l":0.005,"h":0.0078},{"g":"L12","k":12,"x":0.479,"l":0.0024,"h":0.0109},{"g":"L12","k":12,"x":0.484,"l":0.0018,"h":0.0111},{"g":"L12","k":12,"x":0.489,"l":0.0018,"h":0.01},{"g":"L12","k":12,"x":0.493,"l":0.0018,"h":0.0087},
{"g":"R12","k":12,"x":0.528,"l":0.0052,"h":0.0081},{"g":"R12","k":12,"x":0.522,"l":0.0024,"h":0.0113},{"g":"R12","k":12,"x":0.517,"l":0.0018,"h":0.0115},{"g":"R12","k":12,"x":0.512,"l":0.0018,"h":0.0104},{"g":"R12","k":12,"x":0.508,"l":0.0018,"h":0.009},
{"g":"L13","k":13,"x":0.475,"l":0.0045,"h":0.0071},{"g":"L13","k":13,"x":0.4804,"l":0.0026,"h":0.0099},{"g":"L13","k":13,"x":0.4849,"l":0.002,"h":0.0101},{"g":"L13","k":13,"x":0.4894,"l":0.002,"h":0.0091},{"g":"L13","k":13,"x":0.493,"l":0.002,"h":0.0079},
{"g":"R13","k":13,"x":0.526,"l":0.0047,"h":0.0073},{"g":"R13","k":13,"x":0.5206,"l":0.0026,"h":0.0102},{"g":"R13","k":13,"x":0.5161,"l":0.002,"h":0.0104},{"g":"R13","k":13,"x":0.5116,"l":0.002,"h":0.0094},{"g":"R13","k":13,"x":0.508,"l":0.002,"h":0.0081},
{"g":"L14","k":14,"x":0.476,"l":0.0043,"h":0.0064},{"g":"L14","k":14,"x":0.4811,"l":0.0028,"h":0.009},{"g":"L14","k":14,"x":0.4854,"l":0.0022,"h":0.0092},{"g":"L14","k":14,"x":0.4896,"l":0.0022,"h":0.0083},{"g":"L14","k":14,"x":0.493,"l":0.0022,"h":0.0072},
{"g":"R14","k":14,"x":0.525,"l":0.0045,"h":0.0067},{"g":"R14","k":14,"x":0.5199,"l":0.0028,"h":0.0093},{"g":"R14","k":14,"x":0.5157,"l":0.0022,"h":0.0095},{"g":"R14","k":14,"x":0.5114,"l":0.0022,"h":0.0086},{"g":"R14","k":14,"x":0.508,"l":0.0022,"h":0.0074},
{"g":"L15","k":15,"x":0.477,"l":0.0041,"h":0.0059},{"g":"L15","k":15,"x":0.4818,"l":0.003,"h":0.0082},{"g":"L15","k":15,"x":0.4858,"l":0.0024,"h":0.0084},{"g":"L15","k":15,"x":0.4898,"l":0.0024,"h":0.0076},{"g":"L15","k":15,"x":0.493,"l":0.0024,"h":0.0066},
{"g":"R15","k":15,"x":0.524,"l":0.0042,"h":0.0061},{"g":"R15","k":15,"x":0.5192,"l":0.003,"h":0.0085},{"g":"R15","k":15,"x":0.5152,"l":0.0024,"h":0.0087},{"g":"R15","k":15,"x":0.5112,"l":0.0024,"h":0.0078},{"g":"R15","k":15,"x":0.508,"l":0.0024,"h":0.0068},
{"g":"L16","k":16,"x":0.478,"l":0.004,"h":0.0054},{"g":"L16","k":16,"x":0.4825,"l":0.0031,"h":0.0075},{"g":"L16","k":16,"x":0.4863,"l":0.0026,"h":0.0077},{"g":"L16","k":16,"x":0.49,"l":0.0026,"h":0.0069},{"g":"L16","k":16,"x":0.493,"l":0.0026,"h":0.006},
{"g":"R16","k":16,"x":0.523,"l":0.0041,"h":0.0055},{"g":"R16","k":16,"x":0.5185,"l":0.0031,"h":0.0077},{"g":"R16","k":16,"x":0.5148,"l":0.0026,"h":0.0079},{"g":"R16","k":16,"x":0.511,"l":0.0026,"h":0.0071},{"g":"R16","k":16,"x":0.508,"l":0.0026,"h":0.0062},
{"g":"L17","k":17,"x":0.479,"l":0.0038,"h":0.0048},{"g":"L17","k":17,"x":0.4832,"l":0.0032,"h":0.0068},{"g":"L17","k":17,"x":0.4867,"l":0.0028,"h":0.0069},{"g":"L17","k":17,"x":0.4902,"l":0.0028,"h":0.0062},{"g":"L17","k":17,"x":0.493,"l":0.0028,"h":0.0054},
{"g":"R17","k":17,"x":0.522,"l":0.0039,"h":0.005},{"g":"R17","k":17,"x":0.5178,"l":0.0032,"h":0.007},{"g":"R17","k":17,"x":0.5143,"l":0.0028,"h":0.0071},{"g":"R17","k":17,"x":0.5108,"l":0.0028,"h":0.0064},{"g":"R17","k":17,"x":0.508,"l":0.0028,"h":0.0055},
{"g":"L18","k":18,"x":0.481,"l":0.0039,"h":0.0047},{"g":"L18","k":18,"x":0.4846,"l":0.0033,"h":0.0062},{"g":"L18","k":18,"x":0.4876,"l":0.003,"h":0.0063},{"g":"L18","k":18,"x":0.4906,"l":0.003,"h":0.0057},{"g":"L18","k":18,"x":0.493,"l":0.003,"h":0.005},
{"g":"R18","k":18,"x":0.52,"l":0.004,"h":0.0048},{"g":"R18","k":18,"x":0.5164,"l":0.0033,"h":0.0063},{"g":"R18","k":18,"x":0.5134,"l":0.003,"h":0.0064},{"g":"R18","k":18,"x":0.5104,"l":0.003,"h":0.0058},{"g":"R18","k":18,"x":0.508,"l":0.003,"h":0.005},
{"g":"L19","k":19,"x":0.484,"l":0.0042,"h":0.0047},{"g":"L19","k":19,"x":0.4864,"l":0.0038,"h":0.0056},{"g":"L19","k":19,"x":0.4884,"l":0.0038,"h":0.0057},{"g":"L19","k":19,"x":0.4904,"l":0.0038,"h":0.0053},{"g":"L19","k":19,"x":0.492,"l":0.004,"h":0.0048}
],
"cbA":[
{"k":0,"l":0,"h":0.2015},{"k":1,"l":0.2015,"h":0.403},{"k":2,"l":0.403,"h":0.6045},{"k":3,"l":0.6045,"h":0.806},{"k":4,"l":0.806,"h":1.0075},{"k":5,"l":1.0075,"h":1.209},{"k":6,"l":1.209,"h":1.4105},{"k":7,"l":1.4105,"h":1.612},{"k":8,"l":1.612,"h":1.8135},{"k":9,"l":1.8135,"h":2.015},{"k":10,"l":2.015,"h":2.2165},{"k":11,"l":2.2165,"h":2.418},{"k":12,"l":2.418,"h":2.6195},{"k":13,"l":2.6195,"h":2.821},{"k":14,"l":2.821,"h":3.0225},{"k":15,"l":3.0225,"h":3.224},{"k":16,"l":3.224,"h":3.4255},{"k":17,"l":3.4255,"h":3.627},{"k":18,"l":3.627,"h":3.8285},{"k":19,"l":3.8285,"h":4.03}
],
"cbC":[
{"k":0,"l":0,"h":0.158},{"k":1,"l":0.158,"h":0.316},{"k":2,"l":0.316,"h":0.474},{"k":3,"l":0.474,"h":0.632},{"k":4,"l":0.632,"h":0.79},{"k":5,"l":0.79,"h":0.948},{"k":6,"l":0.948,"h":1.106},{"k":7,"l":1.106,"h":1.264},{"k":8,"l":1.264,"h":1.422},{"k":9,"l":1.422,"h":1.58},{"k":10,"l":1.58,"h":1.738},{"k":11,"l":1.738,"h":1.896},{"k":12,"l":1.896,"h":2.054},{"k":13,"l":2.054,"h":2.212},{"k":14,"l":2.212,"h":2.37},{"k":15,"l":2.37,"h":2.528},{"k":16,"l":2.528,"h":2.686},{"k":17,"l":2.686,"h":2.844},{"k":18,"l":2.844,"h":3.002},{"k":19,"l":3.002,"h":3.16}
],
"lineB":[
{"t":"0.000","x":0,"y":10},{"t":"0.000","x":0.48,"y":10.96},{"t":"0.000","x":0.49,"y":10.98},{"t":"0.000","x":0.5,"y":10},{"t":"0.000","x":0.51,"y":9.02},{"t":"0.000","x":0.52,"y":9.04},{"t":"0.000","x":1,"y":10},
{"t":"0.010","x":0,"y":10},{"t":"0.010","x":0.1,"y":10.2},{"t":"0.010","x":0.2,"y":10.4},{"t":"0.010","x":0.25,"y":10.5},{"t":"0.010","x":0.3,"y":10.598},{"t":"0.010","x":0.33,"y":10.652},{"t":"0.010","x":0.36,"y":10.695},{"t":"0.010","x":0.39,"y":10.718},{"t":"0.010","x":0.42,"y":10.707},{"t":"0.010","x":0.44,"y":10.685},{"t":"0.010","x":0.46,"y":10.645},{"t":"0.010","x":0.47,"y":10.615},{"t":"0.010","x":0.48,"y":10.573},{"t":"0.010","x":0.49,"y":10.53},{"t":"0.010","x":0.5,"y":10},{"t":"0.010","x":0.51,"y":9.47},{"t":"0.010","x":0.52,"y":9.427},{"t":"0.010","x":0.53,"y":9.385},{"t":"0.010","x":0.54,"y":9.355},{"t":"0.010","x":0.56,"y":9.315},{"t":"0.010","x":0.58,"y":9.293},{"t":"0.010","x":0.61,"y":9.282},{"t":"0.010","x":0.64,"y":9.305},{"t":"0.010","x":0.67,"y":9.348},{"t":"0.010","x":0.7,"y":9.402},{"t":"0.010","x":0.75,"y":9.5},{"t":"0.010","x":0.8,"y":9.6},{"t":"0.010","x":0.9,"y":9.8},{"t":"0.010","x":1,"y":10},
{"t":"0.020","x":0,"y":10},{"t":"0.020","x":0.1,"y":10.2},{"t":"0.020","x":0.2,"y":10.399},{"t":"0.020","x":0.25,"y":10.495},{"t":"0.020","x":0.3,"y":10.588},{"t":"0.020","x":0.33,"y":10.632},{"t":"0.020","x":0.36,"y":10.662},{"t":"0.020","x":0.375,"y":10.67},{"t":"0.020","x":0.39,"y":10.668},{"t":"0.020","x":0.42,"y":10.62},{"t":"0.020","x":0.447,"y":10.541},{"t":"0.020","x":0.46,"y":10.49},{"t":"0.020","x":0.47,"y":10.45},{"t":"0.020","x":0.48,"y":10.4},{"t":"0.020","x":0.49,"y":10.33},{"t":"0.020","x":0.5,"y":10},{"t":"0.020","x":0.51,"y":9.67},{"t":"0.020","x":0.52,"y":9.6},{"t":"0.020","x":0.53,"y":9.55},{"t":"0.020","x":0.54,"y":9.51},{"t":"0.020","x":0.553,"y":9.459},{"t":"0.020","x":0.58,"y":9.38},{"t":"0.020","x":0.61,"y":9.332},{"t":"0.020","x":0.625,"y":9.33},{"t":"0.020","x":0.64,"y":9.338},{"t":"0.020","x":0.67,"y":9.368},{"t":"0.020","x":0.7,"y":9.412},{"t":"0.020","x":0.75,"y":9.505},{"t":"0.020","x":0.8,"y":9.601},{"t":"0.020","x":0.9,"y":9.8},{"t":"0.020","x":1,"y":10},
{"t":"0.030","x":0,"y":10},{"t":"0.030","x":0.1,"y":10.2},{"t":"0.030","x":0.2,"y":10.397},{"t":"0.030","x":0.25,"y":10.49},{"t":"0.030","x":0.3,"y":10.58},{"t":"0.030","x":0.33,"y":10.614},{"t":"0.030","x":0.363,"y":10.631},{"t":"0.030","x":0.39,"y":10.615},{"t":"0.030","x":0.42,"y":10.535},{"t":"0.030","x":0.447,"y":10.455},{"t":"0.030","x":0.46,"y":10.39},{"t":"0.030","x":0.47,"y":10.34},{"t":"0.030","x":0.48,"y":10.28},{"t":"0.030","x":0.49,"y":10.18},{"t":"0.030","x":0.5,"y":10},{"t":"0.030","x":0.51,"y":9.82},{"t":"0.030","x":0.52,"y":9.72},{"t":"0.030","x":0.53,"y":9.66},{"t":"0.030","x":0.54,"y":9.61},{"t":"0.030","x":0.553,"y":9.545},{"t":"0.030","x":0.58,"y":9.465},{"t":"0.030","x":0.61,"y":9.385},{"t":"0.030","x":0.637,"y":9.369},{"t":"0.030","x":0.67,"y":9.386},{"t":"0.030","x":0.7,"y":9.42},{"t":"0.030","x":0.75,"y":9.51},{"t":"0.030","x":0.8,"y":9.603},{"t":"0.030","x":0.9,"y":9.8},{"t":"0.030","x":1,"y":10},
{"t":"0.040","x":0,"y":10},{"t":"0.040","x":0.1,"y":10.2},{"t":"0.040","x":0.2,"y":10.395},{"t":"0.040","x":0.25,"y":10.487},{"t":"0.040","x":0.3,"y":10.567},{"t":"0.040","x":0.33,"y":10.59},{"t":"0.040","x":0.355,"y":10.595},{"t":"0.040","x":0.38,"y":10.585},{"t":"0.040","x":0.41,"y":10.52},{"t":"0.040","x":0.447,"y":10.39},{"t":"0.040","x":0.46,"y":10.33},{"t":"0.040","x":0.47,"y":10.27},{"t":"0.040","x":0.479,"y":10.218},{"t":"0.040","x":0.49,"y":10.12},{"t":"0.040","x":0.5,"y":10},{"t":"0.040","x":0.51,"y":9.88},{"t":"0.040","x":0.521,"y":9.782},{"t":"0.040","x":0.53,"y":9.73},{"t":"0.040","x":0.54,"y":9.67},{"t":"0.040","x":0.553,"y":9.61},{"t":"0.040","x":0.59,"y":9.48},{"t":"0.040","x":0.62,"y":9.415},{"t":"0.040","x":0.645,"y":9.405},{"t":"0.040","x":0.67,"y":9.41},{"t":"0.040","x":0.7,"y":9.433},{"t":"0.040","x":0.75,"y":9.513},{"t":"0.040","x":0.8,"y":9.605},{"t":"0.040","x":0.9,"y":9.8},{"t":"0.040","x":1,"y":10}
],
"lineD":[
{"t":"0.000","x":0,"y":10},{"t":"0.000","x":0.48,"y":10.96},{"t":"0.000","x":0.49,"y":10.98},{"t":"0.000","x":0.5,"y":10},{"t":"0.000","x":0.51,"y":9.02},{"t":"0.000","x":0.52,"y":9.04},{"t":"0.000","x":1,"y":10},
{"t":"0.010","x":0,"y":10},{"t":"0.010","x":0.1,"y":10.2},{"t":"0.010","x":0.2,"y":10.4},{"t":"0.010","x":0.25,"y":10.5},{"t":"0.010","x":0.3,"y":10.598},{"t":"0.010","x":0.33,"y":10.652},{"t":"0.010","x":0.36,"y":10.7},{"t":"0.010","x":0.38,"y":10.728},{"t":"0.010","x":0.402,"y":10.747},{"t":"0.010","x":0.42,"y":10.735},{"t":"0.010","x":0.435,"y":10.696},{"t":"0.010","x":0.45,"y":10.645},{"t":"0.010","x":0.46,"y":10.61},{"t":"0.010","x":0.468,"y":10.575},{"t":"0.010","x":0.48,"y":10.48},{"t":"0.010","x":0.49,"y":10.377},{"t":"0.010","x":0.5,"y":10},{"t":"0.010","x":0.51,"y":9.623},{"t":"0.010","x":0.52,"y":9.52},{"t":"0.010","x":0.532,"y":9.425},{"t":"0.010","x":0.54,"y":9.39},{"t":"0.010","x":0.55,"y":9.355},{"t":"0.010","x":0.565,"y":9.304},{"t":"0.010","x":0.58,"y":9.265},{"t":"0.010","x":0.598,"y":9.253},{"t":"0.010","x":0.62,"y":9.272},{"t":"0.010","x":0.64,"y":9.3},{"t":"0.010","x":0.67,"y":9.348},{"t":"0.010","x":0.7,"y":9.402},{"t":"0.010","x":0.75,"y":9.5},{"t":"0.010","x":0.8,"y":9.6},{"t":"0.010","x":0.9,"y":9.8},{"t":"0.010","x":1,"y":10},
{"t":"0.020","x":0,"y":10},{"t":"0.020","x":0.1,"y":10.2},{"t":"0.020","x":0.2,"y":10.399},{"t":"0.020","x":0.25,"y":10.496},{"t":"0.020","x":0.3,"y":10.59},{"t":"0.020","x":0.33,"y":10.64},{"t":"0.020","x":0.36,"y":10.678},{"t":"0.020","x":0.378,"y":10.689},{"t":"0.020","x":0.4,"y":10.68},{"t":"0.020","x":0.435,"y":10.63},{"t":"0.020","x":0.45,"y":10.59},{"t":"0.020","x":0.468,"y":10.509},{"t":"0.020","x":0.48,"y":10.41},{"t":"0.020","x":0.49,"y":10.267},{"t":"0.020","x":0.5,"y":10},{"t":"0.020","x":0.51,"y":9.733},{"t":"0.020","x":0.52,"y":9.59},{"t":"0.020","x":0.532,"y":9.491},{"t":"0.020","x":0.55,"y":9.41},{"t":"0.020","x":0.565,"y":9.37},{"t":"0.020","x":0.6,"y":9.32},{"t":"0.020","x":0.622,"y":9.311},{"t":"0.020","x":0.64,"y":9.322},{"t":"0.020","x":0.67,"y":9.36},{"t":"0.020","x":0.7,"y":9.41},{"t":"0.020","x":0.75,"y":9.504},{"t":"0.020","x":0.8,"y":9.601},{"t":"0.020","x":0.9,"y":9.8},{"t":"0.020","x":1,"y":10},
{"t":"0.030","x":0,"y":10},{"t":"0.030","x":0.1,"y":10.2},{"t":"0.030","x":0.2,"y":10.398},{"t":"0.030","x":0.25,"y":10.49},{"t":"0.030","x":0.3,"y":10.58},{"t":"0.030","x":0.33,"y":10.62},{"t":"0.030","x":0.36,"y":10.645},{"t":"0.030","x":0.39,"y":10.635},{"t":"0.030","x":0.435,"y":10.553},{"t":"0.030","x":0.45,"y":10.51},{"t":"0.030","x":0.468,"y":10.42},{"t":"0.030","x":0.48,"y":10.34},{"t":"0.030","x":0.49,"y":10.22},{"t":"0.030","x":0.5,"y":10},{"t":"0.030","x":0.51,"y":9.78},{"t":"0.030","x":0.52,"y":9.66},{"t":"0.030","x":0.532,"y":9.58},{"t":"0.030","x":0.55,"y":9.49},{"t":"0.030","x":0.565,"y":9.447},{"t":"0.030","x":0.61,"y":9.365},{"t":"0.030","x":0.64,"y":9.355},{"t":"0.030","x":0.67,"y":9.38},{"t":"0.030","x":0.7,"y":9.42},{"t":"0.030","x":0.75,"y":9.51},{"t":"0.030","x":0.8,"y":9.602},{"t":"0.030","x":0.9,"y":9.8},{"t":"0.030","x":1,"y":10},
{"t":"0.040","x":0,"y":10},{"t":"0.040","x":0.1,"y":10.2},{"t":"0.040","x":0.2,"y":10.395},{"t":"0.040","x":0.25,"y":10.485},{"t":"0.040","x":0.3,"y":10.565},{"t":"0.040","x":0.33,"y":10.595},{"t":"0.040","x":0.35,"y":10.604},{"t":"0.040","x":0.37,"y":10.595},{"t":"0.040","x":0.393,"y":10.553},{"t":"0.040","x":0.435,"y":10.443},{"t":"0.040","x":0.45,"y":10.39},{"t":"0.040","x":0.468,"y":10.289},{"t":"0.040","x":0.48,"y":10.21},{"t":"0.040","x":0.493,"y":10.112},{"t":"0.040","x":0.5,"y":10},{"t":"0.040","x":0.507,"y":9.888},{"t":"0.040","x":0.52,"y":9.79},{"t":"0.040","x":0.532,"y":9.711},{"t":"0.040","x":0.55,"y":9.61},{"t":"0.040","x":0.565,"y":9.557},{"t":"0.040","x":0.607,"y":9.447},{"t":"0.040","x":0.63,"y":9.405},{"t":"0.040","x":0.65,"y":9.396},{"t":"0.040","x":0.67,"y":9.405},{"t":"0.040","x":0.7,"y":9.435},{"t":"0.040","x":0.75,"y":9.515},{"t":"0.040","x":0.8,"y":9.605},{"t":"0.040","x":0.9,"y":9.8},{"t":"0.040","x":1,"y":10}
]
},
"vconcat":[
{"hconcat":[
 {"hconcat":[
  {"width":369,"height":332,"data":{"name":"heatA"},
   "title":{"text":"(a) % Error for θ(x, t)","dx":-4},
   "mark":{"type":"area","interpolate":"monotone"},
   "encoding":{
    "x":{"field":"x","type":"quantitative","scale":{"domain":[0,1],"nice":false,"zero":false},"axis":{"values":[0,0.2,0.4,0.6,0.8,1],"format":".1f","title":"x","titleFontStyle":"italic"}},
    "y":{"field":"h","type":"quantitative","stack":null,"scale":{"domain":[0,0.125],"nice":false,"zero":false},"axis":{"values":[0,0.025,0.05,0.075,0.1,0.125],"format":".3f","title":"t","titleFontStyle":"italic"}},
    "y2":{"field":"l"},
    "color":{"field":"k","type":"ordinal","scale":{"domain":[0,1,2,3,4,5,6,7,8,9,10,11,12,13,14,15,16,17,18,19],"range":["#fff2ef","#fee9e5","#fde0dd","#fdd5d1","#fccac6","#fcbdbe","#fbaeb9","#fa9fb5","#f989ad","#f873a5","#f25e9f","#e7499b","#dd3497","#ca208d","#b70b82","#a4017d","#8f017a","#7a0177","#660172","#51006d"]},"legend":null},
    "detail":{"field":"g"}}},
  {"width":16,"height":332,"data":{"name":"cbA"},
   "mark":{"type":"rect"},
   "encoding":{
    "x":{"datum":0,"type":"quantitative","scale":{"domain":[0,1],"nice":false},"axis":null},
    "x2":{"datum":1},
    "y":{"field":"l","type":"quantitative","scale":{"domain":[0,4.03],"nice":false,"zero":false},"axis":{"orient":"right","values":[0,0.96,1.92,2.88,3.84],"format":".2f","title":null}},
    "y2":{"field":"h"},
    "color":{"field":"k","type":"ordinal","scale":{"domain":[0,1,2,3,4,5,6,7,8,9,10,11,12,13,14,15,16,17,18,19],"range":["#fff2ef","#fee9e5","#fde0dd","#fdd5d1","#fccac6","#fcbdbe","#fbaeb9","#fa9fb5","#f989ad","#f873a5","#f25e9f","#e7499b","#dd3497","#ca208d","#b70b82","#a4017d","#8f017a","#7a0177","#660172","#51006d"]},"legend":null}}}
 ],"spacing":8,"resolve":{"scale":{"x":"independent","y":"independent","color":"independent"}}},
 {"width":448,"height":333,"data":{"name":"lineB"},
  "title":{"text":"(b) Line plot for θ(x, t)","dx":-33},
  "mark":{"type":"line","interpolate":"monotone","strokeWidth":2},
  "encoding":{
   "x":{"field":"x","type":"quantitative","scale":{"domain":[-0.05,1.05],"nice":false,"zero":false},"axis":{"values":[0,0.2,0.4,0.6,0.8,1],"format":".1f","title":"x","titleFontStyle":"italic"}},
   "y":{"field":"y","type":"quantitative","scale":{"domain":[8.922,11.078],"nice":false,"zero":false},"axis":{"values":[9,9.5,10,10.5,11],"format":".1f","title":"θ","titleFontSize":24,"titlePadding":6}},
   "color":{"field":"t","type":"nominal","scale":{"domain":["0.000","0.010","0.020","0.030","0.040"],"range":["#1f77b4","#ff7f0e","#2ca02c","#d62728","#9467bd"]},
    "legend":{"title":"t","orient":"none","legendX":364,"legendY":9,"padding":0,"titleFontStyle":"italic","titleFontWeight":"normal","titleFontSize":17,"titleFont":"Liberation Serif","titleColor":"black","titleAnchor":"middle","titleAlign":"center","titlePadding":4,"labelFont":"Liberation Serif","labelFontSize":16,"labelColor":"black","symbolType":"M-1.6,0L1.6,0","symbolSize":400,"symbolStrokeWidth":2,"labelOffset":16,"rowPadding":1}}}}
],"spacing":121,"resolve":{"scale":{"x":"independent","y":"independent","color":"independent"}}},
{"hconcat":[
 {"hconcat":[
  {"width":369,"height":331,"data":{"name":"heatC"},
   "title":{"text":"(c) % Error for θ(x, t)","dx":-4},
   "mark":{"type":"area","interpolate":"monotone"},
   "encoding":{
    "x":{"field":"x","type":"quantitative","scale":{"domain":[0,1],"nice":false,"zero":false},"axis":{"values":[0,0.2,0.4,0.6,0.8,1],"format":".1f","title":"x","titleFontStyle":"italic"}},
    "y":{"field":"h","type":"quantitative","stack":null,"scale":{"domain":[0,0.125],"nice":false,"zero":false},"axis":{"values":[0,0.025,0.05,0.075,0.1,0.125],"format":".3f","title":"t","titleFontStyle":"italic"}},
    "y2":{"field":"l"},
    "color":{"field":"k","type":"ordinal","scale":{"domain":[0,1,2,3,4,5,6,7,8,9,10,11,12,13,14,15,16,17,18,19],"range":["#fff2ef","#fee9e5","#fde0dd","#fdd5d1","#fccac6","#fcbdbe","#fbaeb9","#fa9fb5","#f989ad","#f873a5","#f25e9f","#e7499b","#dd3497","#ca208d","#b70b82","#a4017d","#8f017a","#7a0177","#660172","#51006d"]},"legend":null},
    "detail":{"field":"g"}}},
  {"width":16,"height":331,"data":{"name":"cbC"},
   "mark":{"type":"rect"},
   "encoding":{
    "x":{"datum":0,"type":"quantitative","scale":{"domain":[0,1],"nice":false},"axis":null},
    "x2":{"datum":1},
    "y":{"field":"l","type":"quantitative","scale":{"domain":[0,3.16],"nice":false,"zero":false},"axis":{"orient":"right","values":[0,0.7549,1.51,2.2649,3.02],"format":".2f","title":null}},
    "y2":{"field":"h"},
    "color":{"field":"k","type":"ordinal","scale":{"domain":[0,1,2,3,4,5,6,7,8,9,10,11,12,13,14,15,16,17,18,19],"range":["#fff2ef","#fee9e5","#fde0dd","#fdd5d1","#fccac6","#fcbdbe","#fbaeb9","#fa9fb5","#f989ad","#f873a5","#f25e9f","#e7499b","#dd3497","#ca208d","#b70b82","#a4017d","#8f017a","#7a0177","#660172","#51006d"]},"legend":null}}}
 ],"spacing":8,"resolve":{"scale":{"x":"independent","y":"independent","color":"independent"}}},
 {"width":439,"height":327,"data":{"name":"lineD"},
  "title":{"text":"(d) Line plots for θ(x, t)","dx":-36},
  "mark":{"type":"line","interpolate":"monotone","strokeWidth":2},
  "encoding":{
   "x":{"field":"x","type":"quantitative","scale":{"domain":[-0.05,1.05],"nice":false,"zero":false},"axis":{"values":[0,0.25,0.5,0.75,1],"format":".2f","title":"x","titleFontStyle":"italic","labelFontSize":22,"titleFontSize":24,"titlePadding":4}},
   "y":{"field":"y","type":"quantitative","scale":{"domain":[8.918,11.077],"nice":false,"zero":false},"axis":{"values":[9,9.5,10,10.5,11],"format":".1f","title":"θ","titleFontSize":28,"labelFontSize":22,"titlePadding":5}},
   "color":{"field":"t","type":"nominal","scale":{"domain":["0.000","0.010","0.020","0.030","0.040"],"range":["#1f77b4","#ff7f0e","#2ca02c","#d62728","#9467bd"]},
    "legend":{"title":"t","orient":"none","legendX":343,"legendY":10,"padding":0,"titleFontStyle":"italic","titleFontWeight":"normal","titleFontSize":19,"titleFont":"Liberation Serif","titleColor":"black","titleAnchor":"middle","titleAlign":"center","titlePadding":4,"labelFont":"Liberation Serif","labelFontSize":18,"labelColor":"black","symbolType":"M-1.64,0L1.64,0","symbolSize":484,"symbolStrokeWidth":2,"labelOffset":19,"rowPadding":2}}}}
],"spacing":124,"resolve":{"scale":{"x":"independent","y":"independent","color":"independent"}}}
],
"spacing":41,
"resolve":{"scale":{"x":"independent","y":"independent","color":"independent"}},
"config":{
 "font":"Liberation Serif",
 "view":{"stroke":"black","strokeWidth":1},
 "axis":{"domain":false,"grid":false,"tickColor":"black","tickSize":4,"tickWidth":1,"labelColor":"black","titleColor":"black","labelFont":"Liberation Serif","titleFont":"Liberation Serif","titleFontWeight":"normal","labelFontSize":20,"titleFontSize":20,"labelFlush":false,"labelOverlap":false,"labelPadding":3,"titlePadding":3},
 "title":{"font":"Liberation Serif","fontSize":29,"fontWeight":"normal","color":"black","orient":"bottom","anchor":"middle","offset":26}
}
}
